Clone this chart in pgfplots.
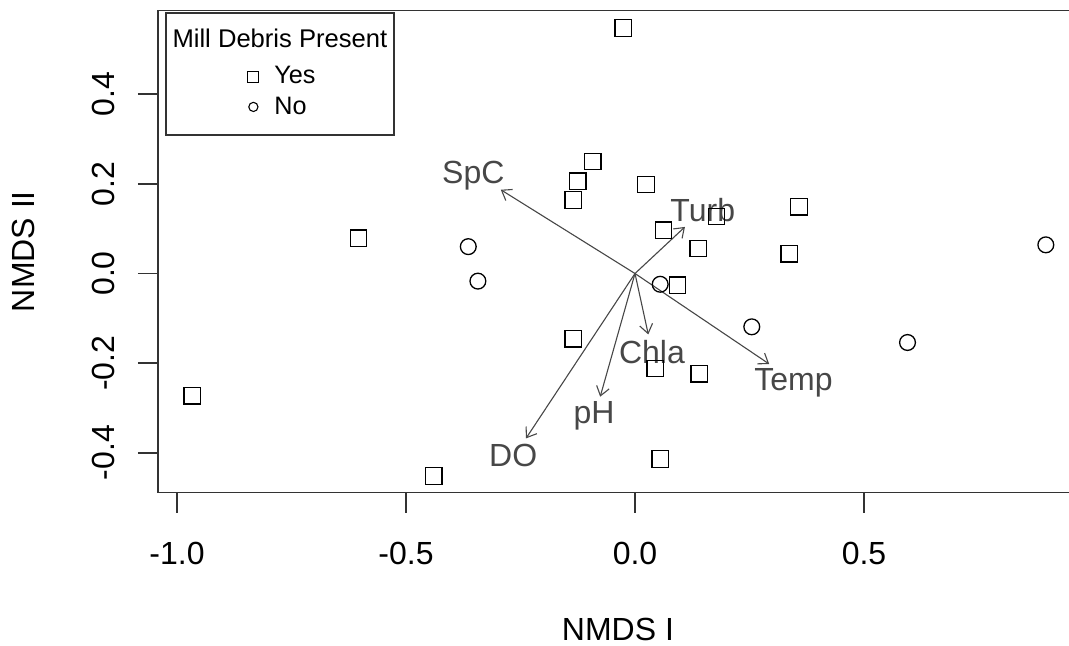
\documentclass[border=0pt]{standalone}
\usepackage{pgfplots}
\pgfplotsset{compat=1.18}
\usepackage{fontspec}
\setmainfont{Liberation Sans}
\usetikzlibrary{arrows.meta}

\definecolor{framecol}{gray}{0.2}
\definecolor{veccol}{gray}{0.28}

% NMDS site scores: mill debris present
\pgfplotstableread{
x y
-0.026 0.548
-0.092 0.250
-0.125 0.206
-0.135 0.164
0.024 0.199
0.062 0.097
0.178 0.127
0.358 0.149
0.138 0.056
0.337 0.044
0.093 -0.026
-0.135 -0.146
0.044 -0.212
0.140 -0.224
0.055 -0.414
-0.439 -0.452
-0.604 0.079
-0.967 -0.273
}\debrisyes

% NMDS site scores: no mill debris
\pgfplotstableread{
x y
-0.364 0.060
-0.343 -0.017
0.055 -0.024
0.255 -0.119
0.595 -0.154
0.897 0.064
}\debrisno

\begin{document}
\begin{tikzpicture}
\begin{axis}[
  anchor=origin, at={(0pt,0pt)},
  x=229pt, y=224pt,
  xmin=-1.0415, xmax=0.967, ymin=-0.489, ymax=0.587,
  axis line style={framecol, line width=0.9pt},
  tick pos=left, tick align=outside, major tick length=10pt,
  every tick/.style={framecol, line width=0.9pt},
  xtick={-1,-0.5,0,0.5}, xticklabels={-1.0,-0.5,0.0,0.5},
  ytick={-0.4,-0.2,0,0.2,0.4}, yticklabels={-0.4,-0.2,0.0,0.2,0.4},
  ticklabel style={font=\fontsize{16}{19}\selectfont, inner sep=0pt},
  xticklabel style={anchor=north},
  yticklabel style={rotate=90, anchor=south},
  xticklabel shift=14.5pt, yticklabel shift=11.5pt,
  xlabel={NMDS I}, ylabel={NMDS II},
  label style={font=\fontsize{16}{19}\selectfont, inner sep=0pt},
  xlabel style={at={(axis description cs:0.5,-0.2592)}, anchor=north},
  ylabel style={at={(axis description cs:-0.1337,0.5)}, rotate=0, anchor=south},
  legend style={at={(axis description cs:0.0924,0.8849)}, anchor=north west,
    draw=none, fill=none, inner sep=0pt, row sep=5pt, column sep=5.5pt,
    nodes={inner sep=0pt}, font=\fontsize{12.6}{14}\selectfont},
  legend cell align=left,
  legend image code/.code={\path[draw=none, fill=none] (-5pt,-5pt) rectangle (5pt,5pt);
    \draw[#1] plot coordinates {(0pt,0pt)};},
  vec/.style={veccol, line width=0.55pt, no markers, -{Straight Barb[length=4.5pt,width=6.5pt]}, forget plot},
  clip=false,
]
% sites
\addplot[only marks, mark=square, mark size=4.1pt, black, mark options={line width=0.65pt}, forget plot] table {\debrisyes};
\addplot[only marks, mark=o, mark size=3.95pt, black, mark options={line width=0.65pt}, forget plot] table {\debrisno};

% fitted environmental vectors
\addplot[vec] coordinates {(0,0) (-0.293,0.187)};
\addplot[vec] coordinates {(0,0) (0.109,0.104)};
\addplot[vec] coordinates {(0,0) (0.029,-0.136)};
\addplot[vec] coordinates {(0,0) (0.293,-0.202)};
\addplot[vec] coordinates {(0,0) (-0.076,-0.275)};
\addplot[vec] coordinates {(0,0) (-0.238,-0.368)};

\begin{scope}[every node/.style={anchor=base, text=veccol, font=\fontsize{16}{19}\selectfont, inner sep=0pt}]
\node at (axis cs:-0.353,0.202) {SpC};
\node at (axis cs:0.148,0.1156) {Turb};
\node at (axis cs:0.037,-0.2004) {Chla};
\node at (axis cs:0.346,-0.2616) {Temp};
\node at (axis cs:-0.0895,-0.334) {pH};
\node at (axis cs:-0.266,-0.431) {DO};
\end{scope}

% legend
\draw[framecol, line width=0.9pt] (axis description cs:0.0087,0.9942) rectangle (axis description cs:0.2565,0.7418);
\node[anchor=base, font=\fontsize{12.8}{15}\selectfont, inner sep=0pt] at (axis description cs:0.1326,0.9243) {Mill Debris Present};
\addlegendimage{only marks, mark=square, mark size=2.75pt, black, mark options={line width=0.55pt}}
\addlegendentry{Yes}
\addlegendimage{only marks, mark=o, mark size=2.3pt, black, mark options={line width=0.55pt}}
\addlegendentry{No}
\end{axis}
\pgfresetboundingbox
\path[use as bounding box] (-317.5pt,-185.75pt) rectangle (217pt,136.75pt);
\end{tikzpicture}
\end{document}
